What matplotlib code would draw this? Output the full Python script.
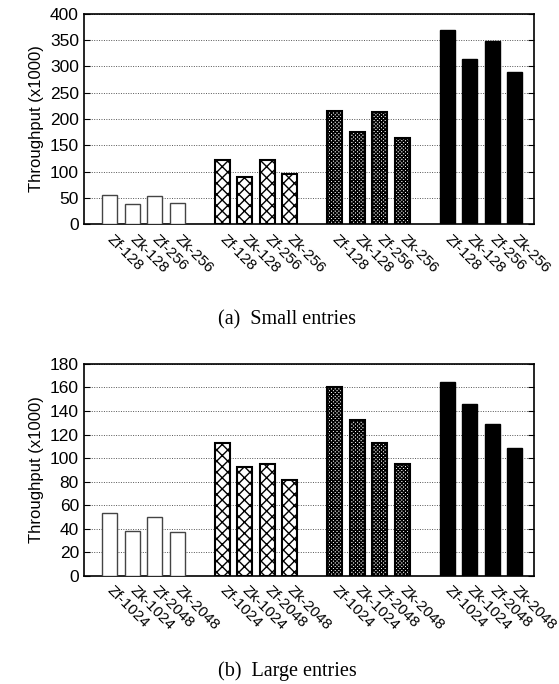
import numpy as np
import matplotlib.pyplot as plt

plt.rcParams['font.family'] = ['Liberation Sans', 'DejaVu Sans']
plt.rcParams['hatch.linewidth'] = 1.0

small_labels = ["Zf-128", "Zk-128", "Zf-256", "Zk-256"]
large_labels = ["Zf-1024", "Zk-1024", "Zf-2048", "Zk-2048"]

# throughput (x1000), one list per group of four bars
small_vals = [
    [55, 38.5, 53.7, 41],
    [123, 89.7, 121.3, 95.4],
    [214.8, 175, 213, 163.7],
    [369.7, 313.4, 348, 288.8],
]
large_vals = [
    [53, 38.3, 49.9, 37.4],
    [112.8, 92.1, 95.2, 81.4],
    [160.7, 132.7, 112.8, 95.2],
    [165, 146.3, 128.7, 108.8],
]

# fill style of each group
styles = [
    dict(color='white', hatch='', edgecolor='#444444', lw=1.0),
    dict(color='white', hatch='xxx', edgecolor='black', lw=1.5),
    dict(color='white', hatch='xxxxxxxxx', edgecolor='black', lw=1.5),
    dict(color='black', hatch='', edgecolor='black', lw=1.0),
]


def draw(ax, vals, labels, ymax, step):
    xs, names = [], []
    for g, group in enumerate(vals):
        pos = np.arange(4) + g * 5
        st = styles[g]
        ax.bar(pos, group, width=0.67, color=st['color'], hatch=st['hatch'],
               edgecolor=st['edgecolor'], linewidth=st['lw'], zorder=3)
        xs.extend(pos)
        names.extend(labels)
    ax.set_xlim(-1.15, 18.85)
    ax.set_ylim(0, ymax)
    ax.set_yticks(np.arange(0, ymax + 1, step))
    ax.yaxis.grid(True, linestyle=(0, (1, 1.5)), color='#555555', linewidth=0.7, zorder=0)
    ax.set_xticks(xs)
    ax.set_xticklabels(names, rotation=-45, ha='left', va='center',
                       rotation_mode='anchor', fontsize=11)
    ax.tick_params(axis='x', length=0, pad=9)
    ax.tick_params(axis='y', direction='in', right=True, labelsize=12.5, length=4)
    ax.set_ylabel('Throughput (x1000)', fontsize=12)
    for s in ax.spines.values():
        s.set_linewidth(1.2)


fig = plt.figure(figsize=(5.59, 6.84), dpi=100)
ax1 = fig.add_axes([0.150, 0.672, 0.805, 0.308])
ax2 = fig.add_axes([0.150, 0.158, 0.805, 0.310])

draw(ax1, small_vals, small_labels, 400, 50)
draw(ax2, large_vals, large_labels, 180, 20)

fig.text(0.514, 1 - 320 / 684, '(a)  Small entries', ha='center', va='center',
         family='Liberation Serif', fontsize=14.5)
fig.text(0.514, 1 - 671 / 684, '(b)  Large entries', ha='center', va='center',
         family='Liberation Serif', fontsize=14.5)

fig.savefig('out.png', dpi=100)
